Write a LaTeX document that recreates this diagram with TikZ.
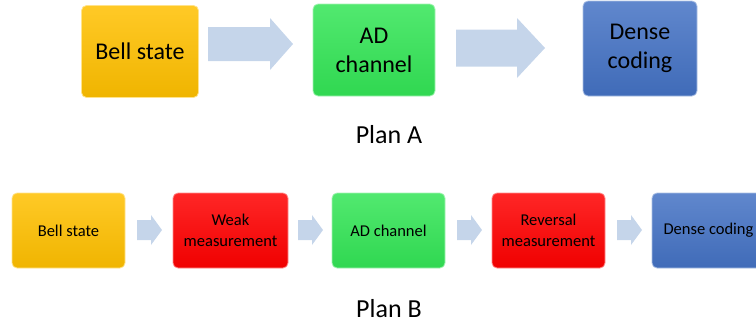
\documentclass[tikz,border=0pt]{standalone}
\usepackage{fontspec}
\setmainfont{Carlito}
\usetikzlibrary{calc}

\definecolor{bellgold}{HTML}{FFC000}
\definecolor{adgreen}{HTML}{33E556}
\definecolor{weakred}{HTML}{FF0000}
\definecolor{codeblue}{HTML}{4472C4}
\definecolor{arrowblue}{HTML}{C5D5EA}

% block arrow between two coordinates: tail, tip, shaft half, head half, head length
\newcommand{\fatarrow}[5]{%
  \fill[arrowblue] let \p1=(#1), \p2=(#2) in
    (\x1,\y1+#3pt) -- (\x2-#5pt,\y1+#3pt) -- (\x2-#5pt,\y1+#4pt) -- (\x2,\y1)
    -- (\x2-#5pt,\y1-#4pt) -- (\x2-#5pt,\y1-#3pt) -- (\x1,\y1-#3pt) -- cycle;}

\tikzset{
  box/.style={rectangle, rounded corners=5pt, draw=#1!45!white, line width=0.8pt,
    top color=#1!85!white, bottom color=#1!94!black, align=center, inner sep=0pt},
  bigbox/.style={box=#1, minimum height=92pt, font=\fontsize{24}{29}\selectfont},
  smallbox/.style={box=#1, minimum width=113pt, minimum height=75pt,
    font=\fontsize{16.5}{21}\selectfont},
  plan/.style={font=\fontsize{26}{30}\selectfont},
}

\begin{document}
\begin{tikzpicture}[x=1pt,y=-1pt]
  \useasboundingbox (0,0) rectangle (756,330);

  % Plan A
  \node[bigbox=bellgold, minimum width=117pt] (bellA) at (140,51.5) {Bell state};
  \node[bigbox=adgreen, minimum width=122pt] (adA) at (374,50) {AD\\channel};
  \node[bigbox=codeblue, minimum width=114pt, minimum height=95pt] (denseA) at (640,48.5) {Dense\\coding};
  \coordinate (a1s) at (208,44);
  \coordinate (a1e) at (293,44);
  \coordinate (a2s) at (456,48);
  \coordinate (a2e) at (545,48);
  \fatarrow{a1s}{a1e}{17}{26}{23}
  \fatarrow{a2s}{a2e}{18.5}{30}{28}
  \node[plan] (planA) at (389,134.5) {Plan A};

  % Plan B
  \node[smallbox=bellgold] (bellB) at (68.5,230.5) {Bell state};
  \node[smallbox=weakred, minimum width=115pt] (weakB) at (230.5,230.5) {Weak\\measurement};
  \node[smallbox=adgreen] (adB) at (388.5,230.5) {AD channel};
  \node[smallbox=weakred] (revB) at (548.5,230.5) {Reversal\\measurement};
  \node[smallbox=codeblue] (denseB) at (708.5,230.5) {Dense coding};
  \foreach \xs in {137,298,457,617} {
    \coordinate (bs) at (\xs,230);
    \coordinate (be) at (\xs+25,230);
    \fatarrow{bs}{be}{10}{15}{11}
  }
  \node[plan] (planB) at (389,309) {Plan B};
\end{tikzpicture}
\end{document}
